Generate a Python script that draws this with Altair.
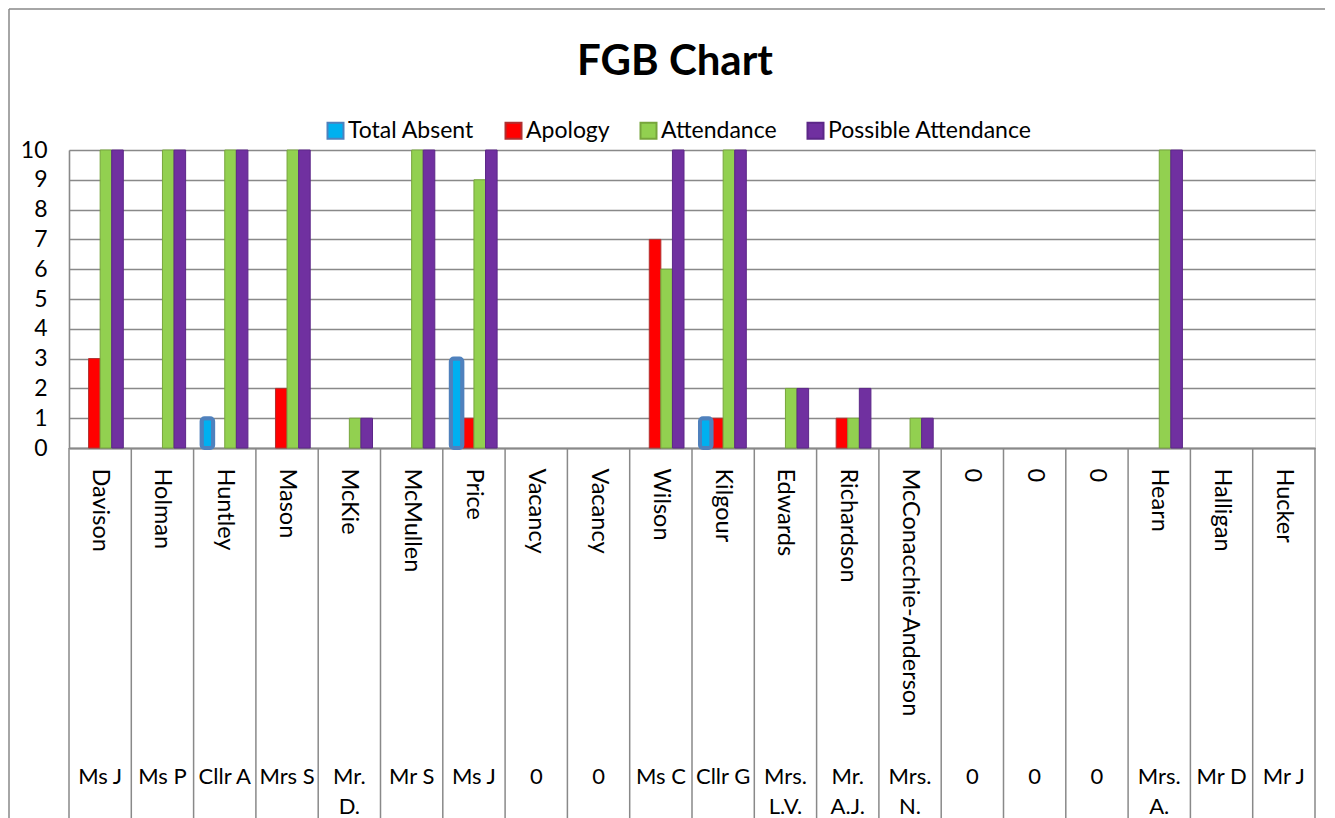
import json
import altair as alt
import pandas as pd

surnames = ["Davison", "Holman", "Huntley", "Mason", "McKie", "McMullen", "Price",
            "Vacancy", "Vacancy", "Wilson", "Kilgour", "Edwards", "Richardson",
            "McConacchie-Anderson", "0", "0", "0", "Hearn", "Halligan", "Hucker"]
titles = ["Ms J", "Ms P", "Cllr A", "Mrs S", "Mr. D.", "Mr S", "Ms J", "0", "0",
          "Ms C", "Cllr G", "Mrs. L.V.", "Mr. A.J.", "Mrs. N.", "0", "0", "0",
          "Mrs. A.", "Mr D", "Mr J"]
series = ["Total Absent", "Apology", "Attendance", "Possible Attendance"]
total_absent = [0, 0, 1, 0, 0, 0, 3, 0, 0, 0, 1, 0, 0, 0, 0, 0, 0, 0, 0, 0]
apology = [3, 0, 0, 2, 0, 0, 1, 0, 0, 7, 1, 0, 1, 0, 0, 0, 0, 0, 0, 0]
attendance = [10, 10, 10, 10, 1, 10, 9, 0, 0, 6, 10, 2, 1, 1, 0, 0, 0, 10, 0, 0]
possible = [10, 10, 10, 10, 1, 10, 10, 0, 0, 10, 10, 2, 2, 1, 0, 0, 0, 10, 0, 0]
chart_title = ["FGB Chart"]

fill_colors = ["#00b0f0", "#ff0000", "#92d050", "#7030a0"]
stroke_colors = ["#4f81bd", "#b03030", "#77a53c", "#5c2788"]

W, H = 1246, 298
BOTTOM = 370
GRAY = "#898989"
FONT = "Lato"

rows = []
for i in range(len(surnames)):
    for s, vals in zip(series, [total_absent, apology, attendance, possible]):
        rows.append({"idx": i, "series": s, "value": vals[i]})
df = pd.DataFrame(rows)
cats = pd.DataFrame({"idx": list(range(len(surnames))), "surname": surnames, "title": titles})
frame = pd.DataFrame({"label": chart_title})

label_expr = json.dumps(surnames) + "[datum.value]"


def x_enc(band_position=None):
    kw = {}
    if band_position is not None:
        kw["bandPosition"] = band_position
    return alt.X(
        "idx:O",
        scale=alt.Scale(paddingInner=0, paddingOuter=0),
        axis=alt.Axis(labelExpr=label_expr, labelAngle=90, labelAlign="left",
                      labelBaseline="middle", labelPadding=20, ticks=False,
                      domainColor=GRAY, domainWidth=2, labelFontSize=23.5,
                      labelFont=FONT, labelColor="black", labelLimit=400,
                      labelOverlap=False, grid=False),
        title=None,
        **kw,
    )


y_enc = alt.Y("value:Q", scale=alt.Scale(domain=[0, 10], nice=False),
              axis=alt.Axis(values=list(range(11)), grid=True, gridColor=GRAY,
                            gridWidth=1.6, domainColor=GRAY, domainWidth=1.6,
                            ticks=False, labelFontSize=23, labelFont=FONT,
                            labelColor="black", labelPadding=22),
              title=None)

legend = alt.Legend(orient="none", legendX=255, legendY=-31, direction="horizontal",
                    title=None, symbolType="square", symbolSize=256,
                    symbolStrokeWidth=2, labelFontSize=23, labelFont=FONT,
                    labelColor="black", labelOffset=1, columnPadding=26,
                    labelLimit=400)

xoff = alt.XOffset("series:N", sort=series,
                   scale=alt.Scale(domain=series, paddingInner=0, paddingOuter=0.69))
fill = alt.Fill("series:N", sort=series,
                scale=alt.Scale(domain=series, range=fill_colors), legend=legend)
stroke = alt.Stroke("series:N", sort=series,
                    scale=alt.Scale(domain=series, range=stroke_colors), legend=legend)

bars = alt.Chart(df).transform_filter(
    "datum.value > 0 && datum.series != 'Total Absent'"
).mark_bar(strokeWidth=1).encode(x=x_enc(), xOffset=xoff, y=y_enc, fill=fill, stroke=stroke)

absent = alt.Chart(df).transform_filter(
    "datum.value > 0 && datum.series == 'Total Absent'"
).mark_bar(strokeWidth=4, cornerRadius=3).encode(x=x_enc(), xOffset=xoff, y=y_enc,
                                                 fill=fill, stroke=stroke)

seps = alt.Chart(cats).mark_rule(color=GRAY, strokeWidth=1.5).encode(
    x=x_enc(0), y=alt.value(H), y2=alt.value(H + BOTTOM))

last_sep = alt.Chart(frame).mark_rule(color=GRAY, strokeWidth=1.5).encode(
    x=alt.value(W), y=alt.value(H), y2=alt.value(H + BOTTOM))

border_left = alt.Chart(frame).mark_rule(color=GRAY, strokeWidth=1.5).encode(
    x=alt.value(-60), y=alt.value(-141), y2=alt.value(H + BOTTOM))
border_top = alt.Chart(frame).mark_rule(color=GRAY, strokeWidth=1.5).encode(
    x=alt.value(-60), x2=alt.value(W + 20), y=alt.value(-141))

title_mark = alt.Chart(frame).mark_text(
    font=FONT, fontSize=42, fontWeight="bold", color="black",
    align="center", baseline="alphabetic").encode(
    x=alt.value(W / 2 - 17), y=alt.value(-75), text="label:N")

title_text = alt.Chart(cats).transform_calculate(
    lines="replace(datum.title, '. ', '.\\n')"
).mark_text(font=FONT, fontSize=22, baseline="alphabetic", lineHeight=30,
            lineBreak="\n", color="black").encode(
    x=x_enc(), y=alt.value(H + 336), text="lines:N")

chart = alt.layer(seps, last_sep, border_left, border_top, bars, absent,
                  title_text, title_mark).properties(
    width=W, height=H,
    autosize=alt.AutoSizeParams(type="none"),
    padding={"left": 61, "top": 142, "right": 10, "bottom": BOTTOM},
).configure_view(stroke=None).configure(font=FONT)

chart.save("out.html", embed_options={"renderer": "svg", "actions": False})
